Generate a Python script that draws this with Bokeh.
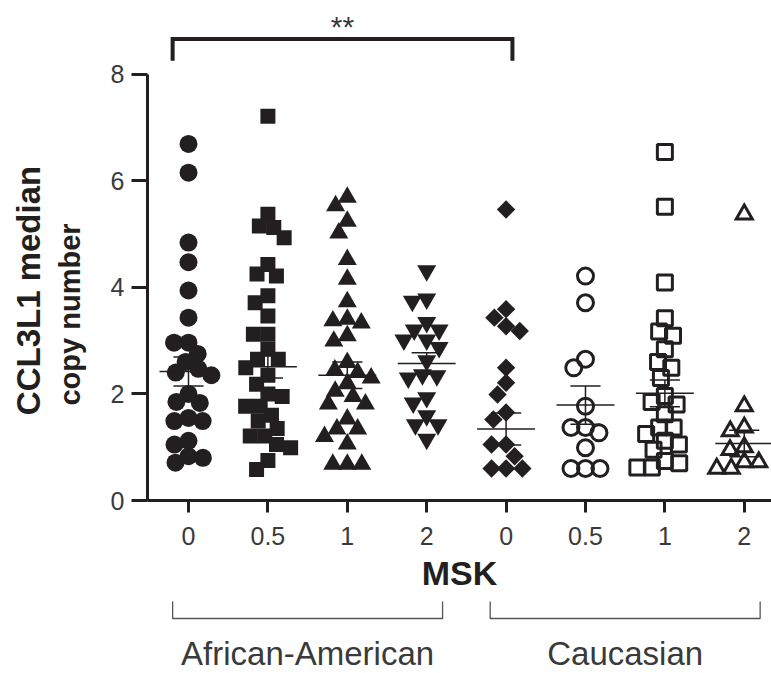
import math
from bokeh.plotting import figure
from bokeh.models import Range1d, FixedTicker
from bokeh.layouts import column, row
from bokeh.core.properties import value
from bokeh.embed import file_html
from bokeh.resources import INLINE

# ---------------- data ----------------
msk_labels = ["0", "0.5", "1", "2", "0", "0.5", "1", "2"]
ethnicities = ["African-American", "Caucasian"]
x_title = "MSK"
y_title = ["CCL3L1 median", "copy number"]
significance = "**"

aa_0 = [6.69, 6.15, 4.84, 4.47, 3.94, 3.43, 2.96, 2.96, 2.75, 2.60, 2.47, 2.40,
        2.35, 2.00, 1.85, 1.83, 1.55, 1.49, 1.49, 1.12, 1.05, 0.83, 0.80, 0.71]
aa_05 = [7.21, 5.37, 5.15, 5.12, 4.93, 4.43, 4.25, 4.21, 3.84, 3.71, 3.46, 3.12,
         3.12, 2.84, 2.65, 2.65, 2.49, 2.35, 2.18, 2.00, 1.95, 1.77, 1.77, 1.60,
         1.49, 1.35, 1.21, 1.21, 1.05, 0.99, 0.75, 0.58]
aa_1 = [5.69, 5.53, 5.24, 5.02, 4.52, 4.15, 3.73, 3.40, 3.37, 3.33, 3.09, 2.99,
        2.59, 2.45, 2.40, 2.30, 2.20, 2.05, 1.95, 1.81, 1.81, 1.53, 1.34, 1.34,
        1.20, 1.06, 0.68, 0.68, 0.68]
aa_2 = [4.31, 3.78, 3.74, 3.34, 3.20, 3.20, 3.01, 3.01, 2.87, 2.62, 2.36, 2.34,
        2.30, 1.93, 1.83, 1.59, 1.42, 1.42, 1.15]
ca_0 = [5.46, 3.59, 3.43, 3.27, 3.18, 2.49, 2.21, 1.99, 1.65, 1.52, 1.05, 1.05,
        0.83, 0.60, 0.60, 0.60]
ca_05 = [4.21, 3.71, 2.65, 2.49, 1.77, 1.37, 1.37, 1.27, 0.99, 0.60, 0.60, 0.60]
ca_1 = [6.54, 5.51, 4.09, 3.42, 3.17, 3.09, 2.84, 2.60, 2.49, 2.30, 1.96, 1.85,
        1.80, 1.62, 1.37, 1.37, 1.25, 1.12, 1.05, 0.95, 0.74, 0.70, 0.62, 0.62]
ca_2 = [5.37, 1.77, 1.37, 1.30, 1.00, 0.95, 0.72, 0.72, 0.60, 0.60]

groups = [aa_0, aa_05, aa_1, aa_2, ca_0, ca_05, ca_1, ca_2]
means = [2.42, 2.51, 2.35, 2.57, 1.34, 1.79, 2.01, 1.07]
sems = [0.27, 0.21, 0.25, 0.20, 0.30, 0.36, 0.25, 0.25]

# ---------------- style ----------------
INK = "#231f20"
TXT = "#3a3a3a"
FONT = "Liberation Sans"
PX_Y = 53.3   # pixels per y unit
PX_X = 79.4   # pixels per group

marker_styles = [
    dict(marker="circle", size=18, fill_color=INK, line_color=None),
    dict(marker="square", size=15, fill_color=INK, line_color=None),
    dict(marker="triangle", size=19, fill_color=INK, line_color=None),
    dict(marker="inverted_triangle", size=19, fill_color=INK, line_color=None),
    dict(marker="square", size=13, angle=math.pi / 4, fill_color=INK, line_color=None),
    dict(marker="circle", size=16, fill_color=None, line_color=INK, line_width=3),
    dict(marker="square", size=15, fill_color=None, line_color=INK, line_width=3),
    dict(marker="triangle", size=16, fill_color=None, line_color=INK, line_width=3,
         line_join="miter"),
]


def swarm(vals, d=14.5):
    """Deterministic beeswarm offsets (in group units) from the values."""
    pts = []
    offs = [0.0] * len(vals)
    order = sorted(range(len(vals)), key=lambda i: -vals[i])
    for i in order:
        y = vals[i] * PX_Y
        cands = [0.0]
        for (px, py) in pts:
            dy = y - py
            if abs(dy) < d:
                dx = math.sqrt(d * d - dy * dy)
                cands += [px + dx, px - dx]
        cands.sort(key=lambda c: (abs(c), c))
        chosen = None
        for c in cands:
            if all((c - px) ** 2 + (y - py) ** 2 >= d * d - 1e-6 for px, py in pts):
                chosen = c
                break
        if chosen is None:
            chosen = max(abs(c) for c in cands) + d
        offs[i] = chosen
        pts.append((chosen, y))
    return [o / PX_X for o in offs]


# ---------------- left panel: y title ----------------
p0 = figure(width=100, height=673, x_range=Range1d(0, 100), y_range=Range1d(673, 0),
            output_backend="svg", toolbar_location=None, x_axis_location=None,
            y_axis_location=None, min_border_left=0, min_border_right=0,
            min_border_top=0, min_border_bottom=0)
p0.outline_line_color = None
p0.grid.visible = False
p0.text(x=[28], y=[290], text=[y_title[0]], angle=math.pi / 2,
        text_font=value(FONT), text_font_style="bold", text_font_size=value("33px"),
        text_color=INK, text_align="center", text_baseline="alphabetic")
p0.text(x=[69], y=[314], text=[y_title[1]], angle=math.pi / 2,
        text_font=value(FONT), text_font_style="bold", text_font_size=value("29px"),
        text_color=INK, text_align="center", text_baseline="alphabetic")

# ---------------- main plot ----------------
x_rng = Range1d(0.4836, 8.343)
y_top = 500 / PX_Y
p1 = figure(width=671, height=600, x_range=x_rng, y_range=Range1d(0, y_top),
            output_backend="svg", toolbar_location=None,
            min_border_left=47, min_border_right=0, min_border_top=0,
            min_border_bottom=100)
p1.outline_line_color = None
p1.grid.visible = False

xa = p1.xaxis[0]
xa.ticker = FixedTicker(ticks=list(range(1, 9)))
xa.major_label_overrides = {i + 1: lab for i, lab in enumerate(msk_labels)}
xa.axis_label = x_title
xa.axis_label_text_font = FONT
xa.axis_label_text_font_style = "bold"
xa.axis_label_text_font_size = "34px"
xa.axis_label_text_color = INK
xa.axis_label_standoff = 6
ya = p1.yaxis[0]
ya.ticker = FixedTicker(ticks=[0, 2, 4, 6, 8])
ya.bounds = (0, 8)
for ax in (xa, ya):
    ax.axis_line_color = INK
    ax.axis_line_width = 3
    ax.major_tick_line_color = INK
    ax.major_tick_line_width = 3
    ax.major_tick_in = 0
    ax.minor_tick_line_color = None
    ax.major_label_text_font = FONT
    ax.major_label_text_font_size = "25px"
    ax.major_label_text_color = TXT
xa.major_tick_out = 12
xa.major_label_standoff = 14
ya.major_tick_out = 16
ya.major_label_standoff = 7

# error bars (SEM)
xs = [i + 1 for i in range(8)]
p1.segment(x0=xs, x1=xs, y0=[m - s for m, s in zip(means, sems)],
           y1=[m + s for m, s in zip(means, sems)], line_color=INK, line_width=1.5)
cap_w = 0.19
for sgn in (-1, 1):
    ys = [m + sgn * s for m, s in zip(means, sems)]
    p1.segment(x0=[x - cap_w for x in xs], x1=[x + cap_w for x in xs], y0=ys, y1=ys,
               line_color=INK, line_width=1.5)

# points
for gi, vals in enumerate(groups):
    offs = swarm(vals)
    p1.scatter(x=[gi + 1 + o for o in offs], y=vals, **marker_styles[gi])

# mean lines
mw = 0.365
p1.segment(x0=[x - mw for x in xs], x1=[x + mw for x in xs], y0=means, y1=means,
           line_color=INK, line_width=1.5)

# significance bracket (group 1 vs group 5)
b_left, b_right = 1 - 0.2, 5 + 0.08
b_top, b_leg = 8.66, 8.25
p1.multi_line(xs=[[b_left, b_left, b_right, b_right]], ys=[[b_leg, b_top, b_top, b_leg]],
              line_color=INK, line_width=4, line_join="miter")
p1.text(x=[(b_left + b_right) / 2], y=[8.89], text=[significance],
        text_font=value(FONT), text_font_size=value("30px"), text_color=TXT,
        text_align="center", text_baseline="alphabetic")

# ---------------- lower panel ----------------
p2 = figure(width=671, height=73, x_range=x_rng, y_range=Range1d(73, 0),
            output_backend="svg", toolbar_location=None, x_axis_location=None,
            y_axis_location=None, min_border_left=47, min_border_right=0,
            min_border_top=0, min_border_bottom=0)
p2.outline_line_color = None
p2.grid.visible = False

spans = [(1, 4), (5, 8)]
pad = 0.2
p2.multi_line(xs=[[a - pad, a - pad, b + pad, b + pad] for a, b in spans],
              ys=[[1, 18, 18, 1] for _ in spans], line_color="#555555", line_width=1.3)
p2.text(x=[(a + b) / 2 for a, b in spans], y=[53, 53], text=ethnicities,
        text_font=value(FONT), text_font_size=value("33px"), text_color=TXT,
        text_align="center", text_baseline="alphabetic")

layout = row(p0, column(p1, p2, spacing=0), spacing=0)
open("out.html", "w").write(file_html(layout, INLINE))
